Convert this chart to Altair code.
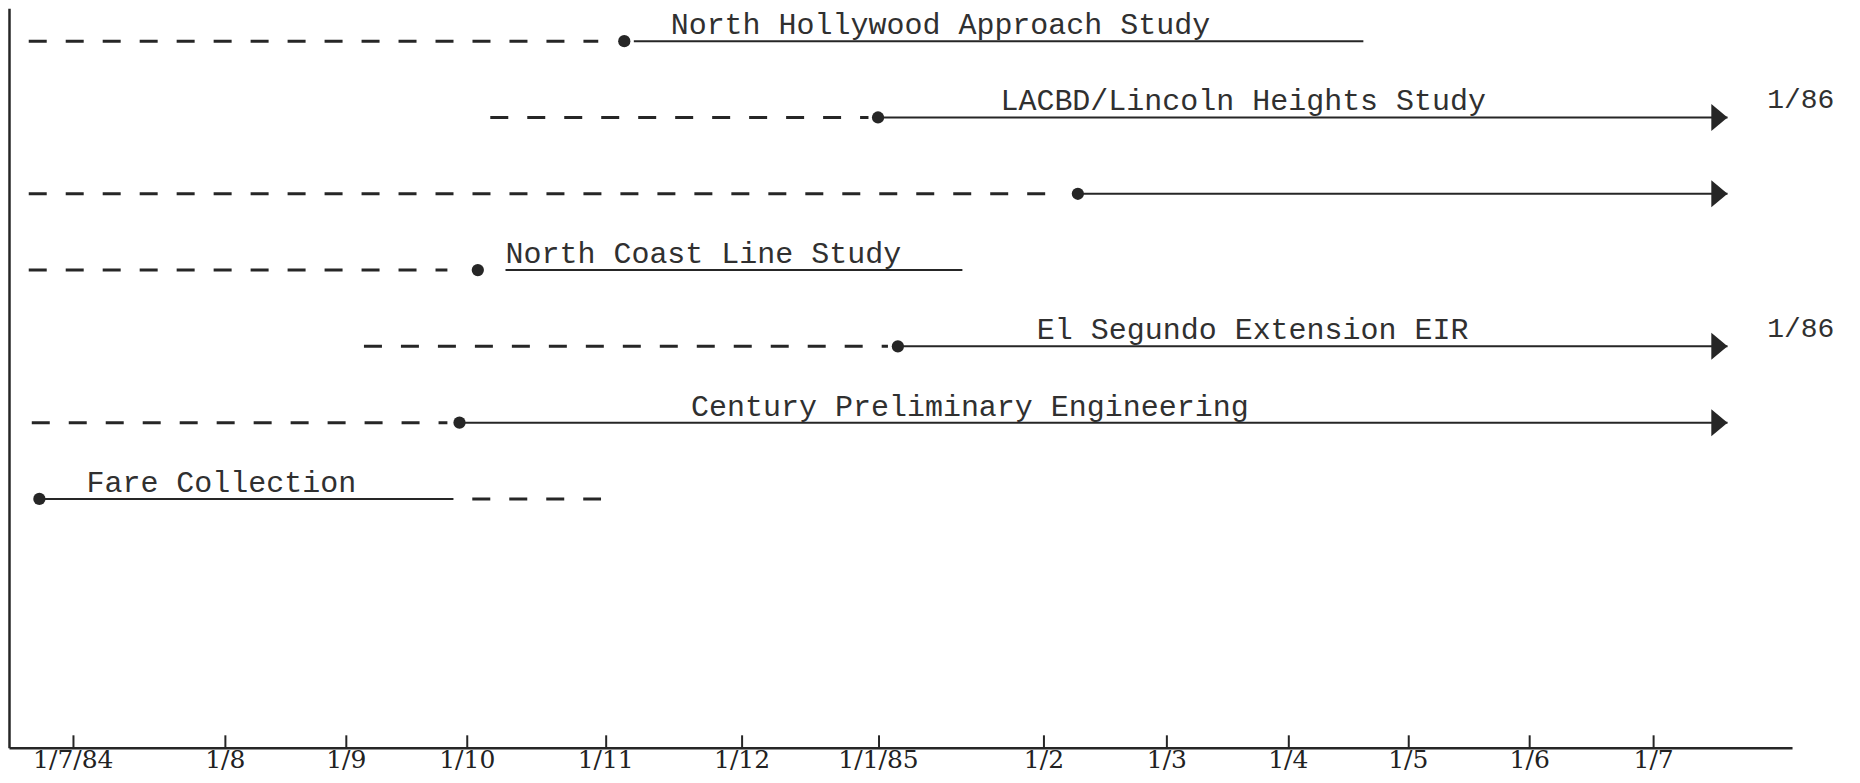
import altair as alt
import pandas as pd

# ---- data ----
names = [
    "North Hollywood Approach Study",
    "LACBD/Lincoln Heights Study",
    "",
    "North Coast Line Study",
    "El Segundo Extension EIR",
    "Century Preliminary Engineering",
    "Fare Collection",
]
row_order = [0, 1, 2, 3, 4, 5, 6]
# months after July 1984 (0 = 1/7/84, 6 = 1/1/85, 12 = 1/7/85)
dash_start = [-0.29, 3.17, -0.29, -0.29, 2.15, -0.27, 3.04]
dash_end = [3.95, 5.93, 7.10, 2.84, 6.06, 2.84, 3.97]
dot_at = [4.14, 6.00, 7.28, 3.08, 6.12, 2.94, -0.22]
solid_start = [4.21, 6.00, 7.28, 3.28, 6.12, 2.94, -0.22]
solid_end = [9.63, 12.60, 12.60, 6.51, 12.60, 12.60, 2.89]
has_arrow = [False, True, True, False, True, True, False]
label_at = [4.48, 6.74, None, 3.28, 6.96, 4.63, 0.09]
end_note = ["", "1/86", "", "", "1/86", "", ""]
end_note_at = [None, 12.92, None, None, 12.92, None, None]

tick_months = [0, 1, 2, 3, 4, 5, 6, 7, 8, 9, 10, 11, 12]
tick_labels = ["1/7/84", "1/8", "1/9", "1/10", "1/11", "1/12", "1/1/85",
               "1/2", "1/3", "1/4", "1/5", "1/6", "1/7"]

# hand-drawn axis: ticks are not evenly spaced -> piecewise scale calibration
x_domain = [-0.42] + tick_months + [13.12]
x_range = [0, 63.8, 215.9, 337, 458, 596.5, 733, 869.5, 1035, 1158,
           1279.5, 1399.5, 1521, 1645, 1784]

W, H = 1784, 740
INK = "#262626"
TEXT = "#303030"

df = pd.DataFrame({
    "name": names, "row": row_order,
    "ds": dash_start, "de": dash_end, "dot": dot_at,
    "ss": solid_start, "se": solid_end, "arrow": has_arrow,
    "lx": label_at, "note": end_note, "nx": end_note_at,
})

xs = alt.Scale(type="linear", domain=x_domain, range=x_range, nice=False, zero=False)
ys = alt.Scale(domain=[-0.432, 9.262], reverse=True, nice=False, zero=False)

label_expr = "[" + ",".join("'%s'" % t for t in tick_labels) + "][datum.value]"

x_bottom_axis = alt.Axis(
    orient="bottom", values=tick_months, labelExpr=label_expr, ticks=False,
    grid=False, title=None, domainColor=INK, domainWidth=2.5,
    labelFont="DejaVu Serif", labelFontSize=25, labelColor="#222222",
    labelPadding=0, labelFlush=False, labelOverlap=False,
)
x_tick_axis = alt.Axis(
    orient="top", offset=-H, values=tick_months, labels=False, domain=False,
    ticks=True, tickSize=13, tickWidth=2, tickColor=INK, grid=False, title=None,
)
y_axis = alt.Axis(domain=True, domainColor=INK, domainWidth=2.5, ticks=False,
                  labels=False, grid=False, title=None)

base = alt.Chart(df)
Y = alt.Y("row:Q", scale=ys, axis=y_axis)

dashed = base.mark_rule(strokeDash=[18, 19], strokeWidth=3, color=INK).encode(
    x=alt.X("ds:Q", scale=xs, axis=x_bottom_axis),
    x2="de:Q",
    y=Y,
)

solid = base.mark_rule(strokeWidth=2, color=INK).encode(
    x=alt.X("ss:Q", scale=xs, axis=x_tick_axis),
    x2="se:Q",
    y=Y,
)

dots = base.mark_circle(size=150, opacity=1, color=INK).encode(
    x=alt.X("dot:Q", scale=xs, axis=None),
    y=Y,
)

arrows = base.transform_filter("datum.arrow").mark_point(
    shape="M-1.2,-1L0,0L-1.2,1Z", filled=True, size=729, opacity=1,
    color=INK, strokeWidth=0,
).encode(
    x=alt.X("se:Q", scale=xs, axis=None),
    y=Y,
)

labels = base.transform_filter("datum.name != ''").mark_text(
    align="left", baseline="alphabetic", dy=-7, font="Liberation Mono",
    fontSize=30, color=TEXT,
).encode(
    x=alt.X("lx:Q", scale=xs, axis=None),
    y=Y,
    text="name:N",
)

notes = base.transform_filter("datum.note != ''").mark_text(
    align="left", baseline="alphabetic", dy=-9, font="Liberation Mono",
    fontSize=28, color=TEXT,
).encode(
    x=alt.X("nx:Q", scale=xs, axis=None),
    y=Y,
    text="note:N",
)

chart = alt.layer(dashed, solid, dots, arrows, labels, notes).resolve_axis(
    x="independent"
).properties(
    width=W, height=H, background="white",
    autosize=alt.AutoSizeParams(type="none"),
    padding={"left": 1, "top": 0, "right": 60, "bottom": 27},
).configure_view(stroke=None)

chart.save("out.html", embed_options={"renderer": "svg", "actions": False})
